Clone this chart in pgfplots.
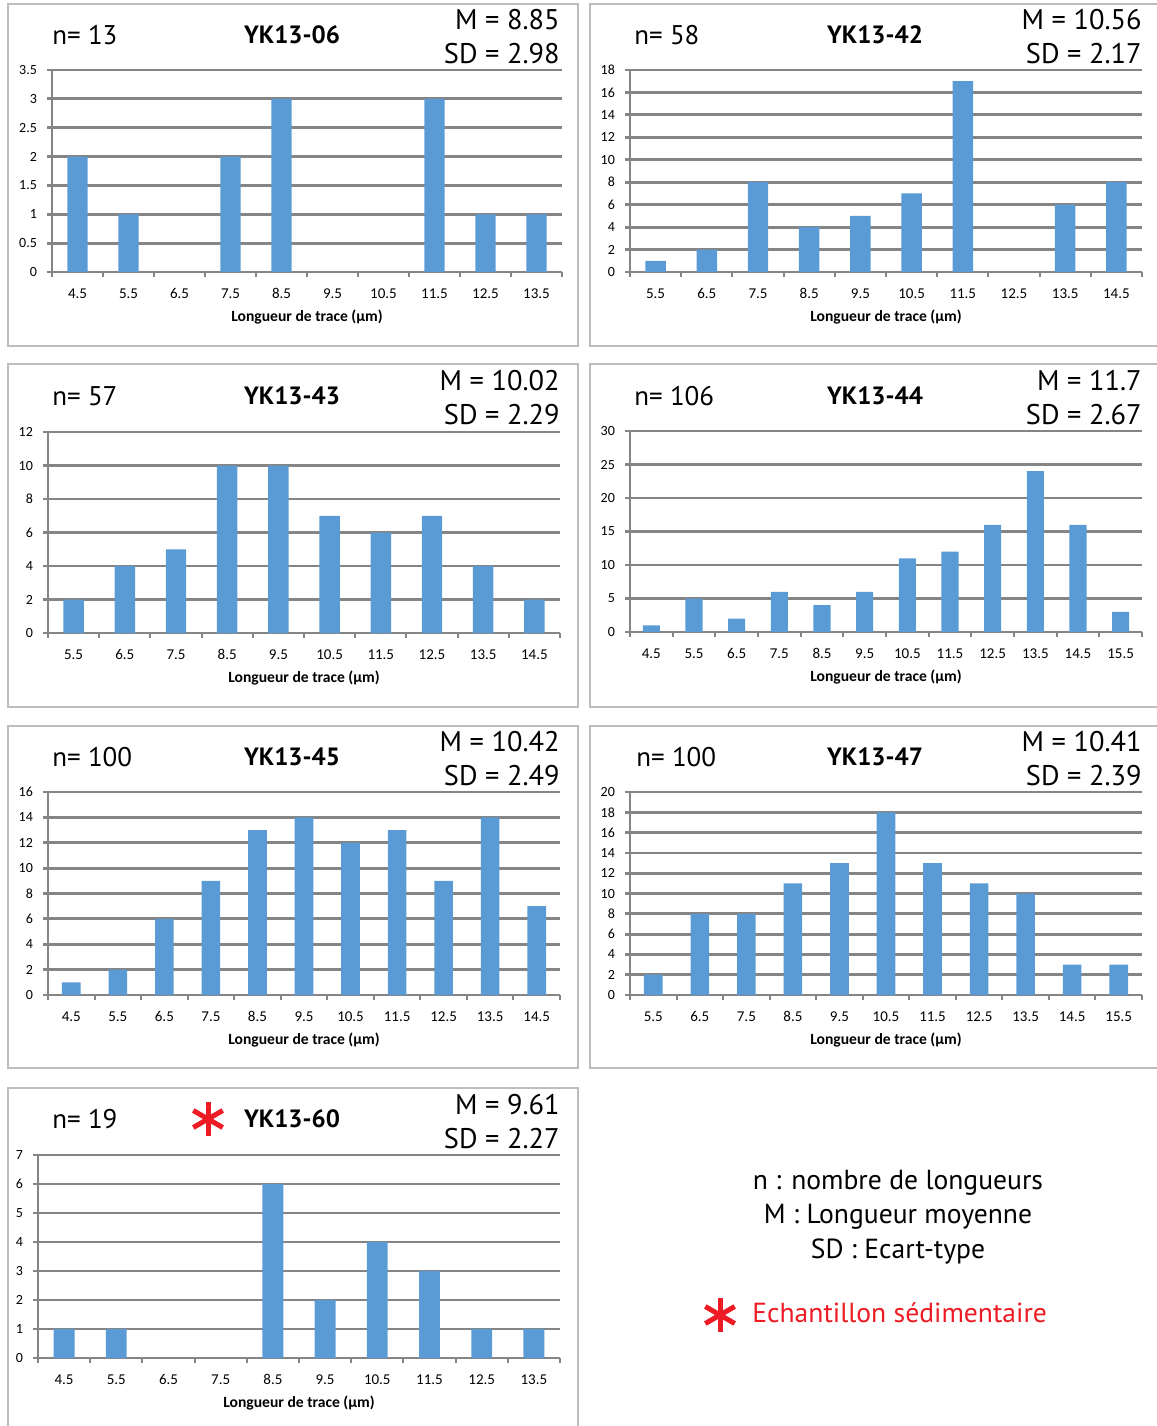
\documentclass[border=0pt]{standalone}
\usepackage{fontspec}
\setmainfont{Carlito}
\newfontfamily\ptsans{PT Sans}
\usepackage{pgfplots}
\pgfplotsset{compat=1.18}
\definecolor{barblue}{HTML}{5B9BD5}
\definecolor{gridgray}{HTML}{858585}
\definecolor{boxgray}{HTML}{BDBDBD}
\definecolor{sedred}{HTML}{ED1C24}

\pgfplotsset{
  hist/.style={
    scale only axis, anchor=south west,
    ybar, bar width=0.4, ymin=0,
    axis x line*=bottom, axis y line*=left,
    axis line style={-, draw=gridgray, line width=1.4pt},
    ymajorgrids, major grid style={draw=gridgray, line width=1.4pt},
    tick align=outside, major tick length=2.5pt, minor tick length=2.5pt,
    major x tick style={draw=none},
    minor x tick style={draw=gridgray, line width=1pt},
    ytick style={draw=gridgray, line width=1.4pt},
    yticklabel style={font=\fontsize{7}{8}\selectfont, xshift=-1.5pt},
    xticklabel style={font=\fontsize{7.5}{8}\selectfont, text height=5.2pt,
      text depth=0pt, yshift=-2pt},
    xlabel={Longueur de trace (µm)},
    xlabel style={font=\bfseries\fontsize{7.8}{9}\selectfont, yshift=1pt},
    /pgf/number format/assume math mode=true,
  },
  bars/.style={fill=barblue, draw=none},
}

\newcommand{\ntxt}{\ptsans\fontsize{13.5}{16}\selectfont}
\newcommand{\stattxt}{\ptsans\fontsize{14.2}{16}\selectfont}
\newcommand{\keytxt}{\ptsans\fontsize{13.8}{16}\selectfont}
\newcommand{\ttl}{\ptsans\bfseries\fontsize{12.5}{14}\selectfont}

\begin{document}
\begin{tikzpicture}
\useasboundingbox (0,0) rectangle (578.5pt,-713pt);

% panel frames and texts, in pixel units
\begin{scope}[x=0.5pt, y=-0.5pt, every node/.style={inner sep=0pt}]
  \draw[boxgray, line width=1pt] (8,4) rectangle (578,346);
  \draw[boxgray, line width=1pt] (590,4) rectangle (1162,346);
  \draw[boxgray, line width=1pt] (8,364) rectangle (578,707);
  \draw[boxgray, line width=1pt] (590,364) rectangle (1162,707);
  \draw[boxgray, line width=1pt] (8,726) rectangle (578,1068);
  \draw[boxgray, line width=1pt] (590,726) rectangle (1162,1068);
  \draw[boxgray, line width=1pt] (8,1088) rectangle (578,1432);

  % row 1
  \node[anchor=west] at (52,35) {\ntxt n= 13};
  \node at (292,35) {\ttl YK13-06};
  \node[anchor=east] at (560,20) {\stattxt M = 8.85};
  \node[anchor=east] at (560,54) {\stattxt SD = 2.98};
  \node[anchor=west] at (634,35) {\ntxt n= 58};
  \node at (875,35) {\ttl YK13-42};
  \node[anchor=east] at (1142,20) {\stattxt M = 10.56};
  \node[anchor=east] at (1142,54) {\stattxt SD = 2.17};
  % row 2
  \node[anchor=west] at (52,396) {\ntxt n= 57};
  \node at (292,396) {\ttl YK13-43};
  \node[anchor=east] at (560,381) {\stattxt M = 10.02};
  \node[anchor=east] at (560,415) {\stattxt SD = 2.29};
  \node[anchor=west] at (634,396) {\ntxt n= 106};
  \node at (875,396) {\ttl YK13-44};
  \node[anchor=east] at (1142,381) {\stattxt M = 11.7};
  \node[anchor=east] at (1142,415) {\stattxt SD = 2.67};
  % row 3
  \node[anchor=west] at (52,757) {\ntxt n= 100};
  \node at (292,757) {\ttl YK13-45};
  \node[anchor=east] at (560,742) {\stattxt M = 10.42};
  \node[anchor=east] at (560,776) {\stattxt SD = 2.49};
  \node[anchor=west] at (636,757) {\ntxt n= 100};
  \node at (875,757) {\ttl YK13-47};
  \node[anchor=east] at (1142,742) {\stattxt M = 10.41};
  \node[anchor=east] at (1142,776) {\stattxt SD = 2.39};
  % row 4
  \node[anchor=west] at (52,1119) {\ntxt n= 19};
  \node at (292,1119) {\ttl YK13-60};
  \node[anchor=east] at (560,1105) {\stattxt M = 9.61};
  \node[anchor=east] at (560,1139) {\stattxt SD = 2.27};
  \foreach \a in {90,30,-30}
    \draw[sedred, line width=2.5pt] (208,1119) ++(\a:17) -- ++(\a+180:34);

  % key
  \node at (898,1183) {\keytxt n : nombre de longueurs};
  \node at (898,1217) {\keytxt M : Longueur moyenne};
  \node at (898,1251) {\keytxt SD : Ecart-type};
  \foreach \a in {90,30,-30}
    \draw[sedred, line width=2.5pt] (720,1315) ++(\a:17) -- ++(\a+180:34);
  \node[anchor=west, text=sedred] at (752,1313) {\keytxt Echantillon sédimentaire};
\end{scope}

% YK13-06
\begin{axis}[hist, at={(26pt,-136pt)}, width=255pt, height=101pt,
  xmin=-0.5, xmax=9.5, ymax=3.5, ytick={0,0.5,...,3.5},
  xtick={0,...,9}, minor xtick={-0.5,0.5,...,9.5},
  xticklabels={4.5,5.5,6.5,7.5,8.5,9.5,10.5,11.5,12.5,13.5}]
\addplot[bars] coordinates {(0,2)(1,1)(2,0)(3,2)(4,3)(5,0)(6,0)(7,3)(8,1)(9,1)};
\end{axis}

% YK13-42
\begin{axis}[hist, at={(315pt,-136pt)}, width=256pt, height=101pt,
  xmin=-0.5, xmax=9.5, ymax=18, ytick={0,2,...,18},
  xtick={0,...,9}, minor xtick={-0.5,0.5,...,9.5},
  xticklabels={5.5,6.5,7.5,8.5,9.5,10.5,11.5,12.5,13.5,14.5}]
\addplot[bars] coordinates {(0,1)(1,2)(2,8)(3,4)(4,5)(5,7)(6,17)(7,0)(8,6)(9,8)};
\end{axis}

% YK13-43
\begin{axis}[hist, at={(24pt,-316.5pt)}, width=256pt, height=100.5pt,
  xmin=-0.5, xmax=9.5, ymax=12, ytick={0,2,...,12},
  xtick={0,...,9}, minor xtick={-0.5,0.5,...,9.5},
  xticklabels={5.5,6.5,7.5,8.5,9.5,10.5,11.5,12.5,13.5,14.5}]
\addplot[bars] coordinates {(0,2)(1,4)(2,5)(3,10)(4,10)(5,7)(6,6)(7,7)(8,4)(9,2)};
\end{axis}

% YK13-44
\begin{axis}[hist, at={(315pt,-316pt)}, width=256pt, height=100.5pt,
  xmin=-0.5, xmax=11.5, ymax=30, ytick={0,5,...,30},
  xtick={0,...,11}, minor xtick={-0.5,0.5,...,11.5},
  xticklabels={4.5,5.5,6.5,7.5,8.5,9.5,10.5,11.5,12.5,13.5,14.5,15.5}]
\addplot[bars] coordinates {(0,1)(1,5)(2,2)(3,6)(4,4)(5,6)(6,11)(7,12)(8,16)(9,24)(10,16)(11,3)};
\end{axis}

% YK13-45
\begin{axis}[hist, at={(24pt,-497.5pt)}, width=256pt, height=101.5pt,
  xmin=-0.5, xmax=10.5, ymax=16, ytick={0,2,...,16},
  xtick={0,...,10}, minor xtick={-0.5,0.5,...,10.5},
  xticklabels={4.5,5.5,6.5,7.5,8.5,9.5,10.5,11.5,12.5,13.5,14.5}]
\addplot[bars] coordinates {(0,1)(1,2)(2,6)(3,9)(4,13)(5,14)(6,12)(7,13)(8,9)(9,14)(10,7)};
\end{axis}

% YK13-47
\begin{axis}[hist, at={(315pt,-497.5pt)}, width=256pt, height=101.5pt,
  xmin=-0.5, xmax=10.5, ymax=20, ytick={0,2,...,20},
  xtick={0,...,10}, minor xtick={-0.5,0.5,...,10.5},
  xticklabels={5.5,6.5,7.5,8.5,9.5,10.5,11.5,12.5,13.5,14.5,15.5}]
\addplot[bars] coordinates {(0,2)(1,8)(2,8)(3,11)(4,13)(5,18)(6,13)(7,11)(8,10)(9,3)(10,3)};
\end{axis}

% YK13-60
\begin{axis}[hist, at={(19pt,-679pt)}, width=261pt, height=101.5pt,
  xmin=-0.5, xmax=9.5, ymax=7, ytick={0,1,...,7},
  xtick={0,...,9}, minor xtick={-0.5,0.5,...,9.5},
  xticklabels={4.5,5.5,6.5,7.5,8.5,9.5,10.5,11.5,12.5,13.5}]
\addplot[bars] coordinates {(0,1)(1,1)(2,0)(3,0)(4,6)(5,2)(6,4)(7,3)(8,1)(9,1)};
\end{axis}
\end{tikzpicture}
\end{document}
